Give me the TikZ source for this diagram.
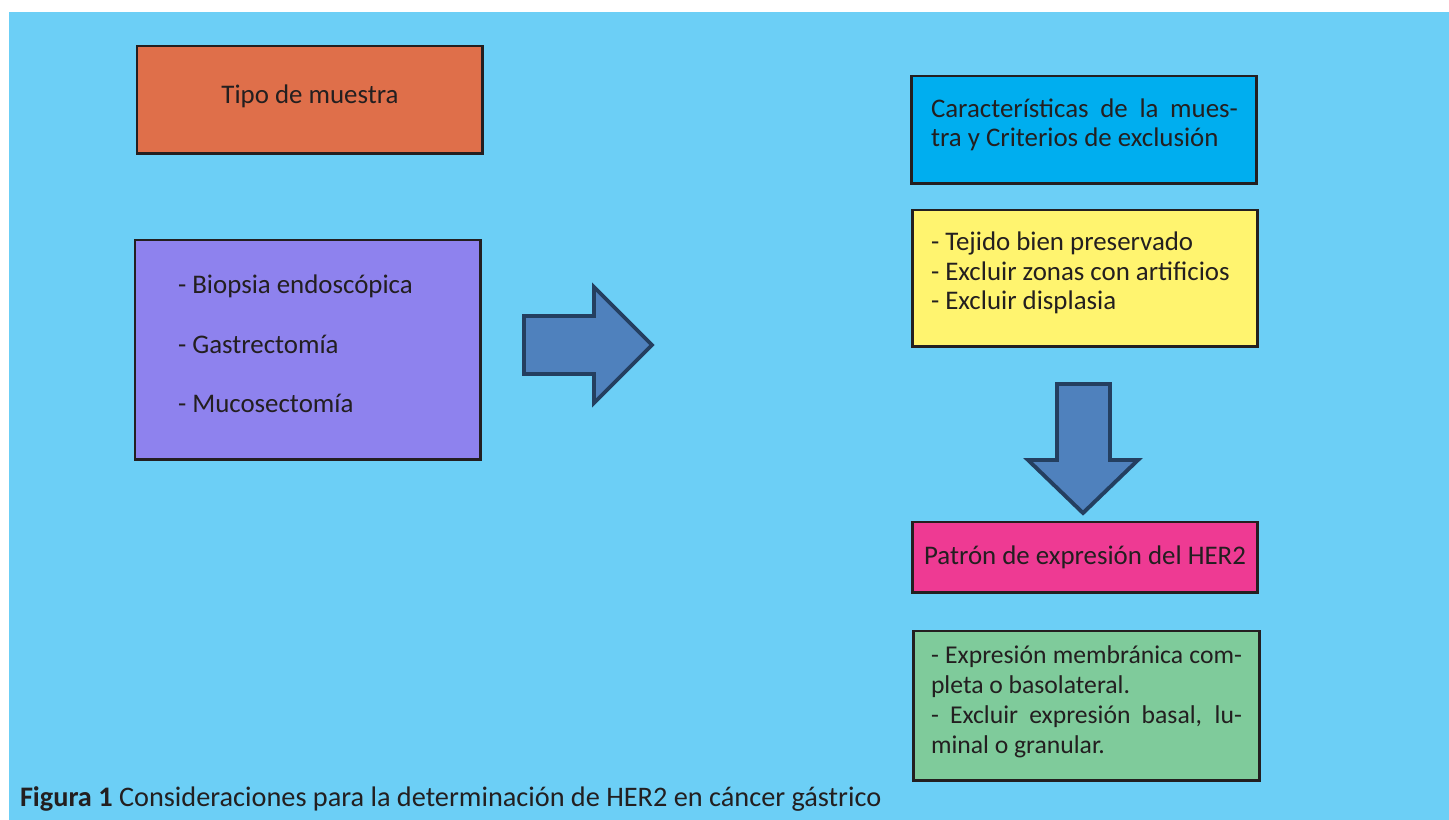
\documentclass[tikz,border=0pt]{standalone}
\usepackage{fontspec}
\setmainfont{Carlito}
\definecolor{bg}{HTML}{6CCFF6}
\definecolor{ink}{HTML}{231F20}
\definecolor{tipocol}{HTML}{DF6F4A}
\definecolor{muestracol}{HTML}{8E82EE}
\definecolor{caractcol}{HTML}{00AEEF}
\definecolor{critcol}{HTML}{FFF46F}
\definecolor{patroncol}{HTML}{EE3A93}
\definecolor{exprcol}{HTML}{7FCB9B}
\definecolor{arrowfill}{HTML}{4F81BD}
\definecolor{arrowline}{HTML}{243F60}

\begin{document}
\begin{tikzpicture}
	[x=0.02cm, y=-0.02cm,
	every node/.style={inner sep=0pt, outer sep=0pt, text=ink, font=\fontsize{15.3}{17.07}\selectfont},
	box/.style={rectangle, draw=ink, line width=1.7pt, anchor=north west, minimum width=6.92cm},
	txt/.style={anchor=base west, align=left},
	bigarrow/.style={draw=arrowline, fill=arrowfill, line width=2.2pt, line join=miter}]
		\useasboundingbox (0,0) rectangle (1449,820);
		\fill[bg] (9,12) rectangle (1449,820);
		% left column
		\node[box, fill=tipocol, minimum height=2.16cm] (tipo) at (137,46) {};
		\node[anchor=base] (tipotxt) at (310,104) {Tipo de muestra};
		\node[box, fill=muestracol, minimum height=4.4cm] (muestras) at (135,240) {};
		\node[txt] (muestrastxt) at (178,413)
			{- Biopsia endoscópica\\[17.07pt]
			- Gastrectomía\\[17.07pt]
			- Mucosectomía};
		% right column
		\node[box, fill=caractcol, minimum height=2.16cm] (caract) at (911,76) {};
		\node[txt] (caracttxt) at (931,147)
			{\makebox[6.14cm][s]{Características de la mues-}\\
			tra y Criterios de exclusión};
		\node[box, fill=critcol, minimum height=2.74cm] (criterios) at (912,210) {};
		\node[txt] (criteriostxt) at (931,310)
			{- Tejido bien preservado\\
			- Excluir zonas con artificios\\
			- Excluir displasia};
		\node[box, fill=patroncol, minimum height=1.42cm] (patron) at (912,522) {};
		\node[anchor=base] (patrontxt) at (1085,564) {Patrón de expresión del HER2};
		\node[box, fill=exprcol, minimum width=6.94cm, minimum height=3cm] (expresion) at (913,631) {};
		\node[txt, font=\fontsize{14.6}{17.07}\selectfont] (expresiontxt) at (931,753)
			{\makebox[6.22cm][s]{- Expresión membránica com-}\\
			pleta o basolateral.\\
			\makebox[6.22cm][s]{- Excluir expresión basal, lu-}\\
			minal o granular.};
		% block arrows
		\draw[bigarrow] (524,316) -- (594,316) -- (594,287) -- (652,345) -- (594,403) -- (594,374) -- (524,374) -- cycle;
		\draw[bigarrow] (1057,384) -- (1110,384) -- (1110,460) -- (1138,460) -- (1083,513) -- (1028,460) -- (1057,460) -- cycle;
		% caption
		\node[anchor=base west, font=\fontsize{16.1}{18}\selectfont] (caption) at (20,806) {\textbf{Figura 1} Consideraciones para la determinación de HER2 en cáncer gástrico};
\end{tikzpicture}
\end{document}
